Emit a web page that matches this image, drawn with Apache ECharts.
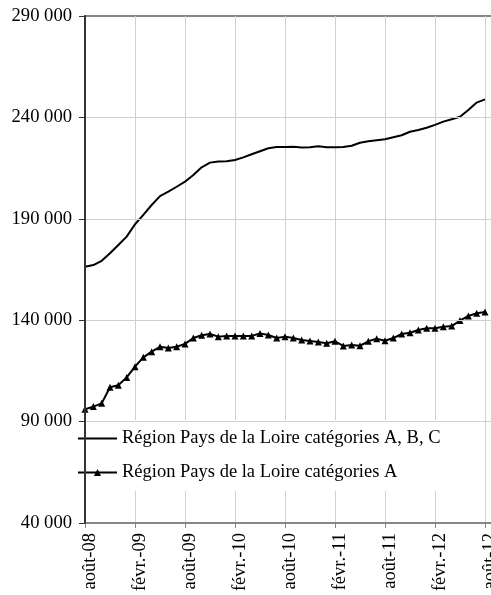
<!DOCTYPE html>
<html>
<head>
<meta charset="utf-8">
<script src="https://cdn.jsdelivr.net/npm/echarts@6/dist/echarts.min.js"></script>
<style>
html,body{margin:0;padding:0;background:#fff;}
#chart{width:491px;height:595px;}
</style>
</head>
<body>
<div id="chart"></div>
<script>
var months = [
  'août-08','sept.-08','oct.-08','nov.-08','déc.-08','janv.-09',
  'févr.-09','mars-09','avr.-09','mai-09','juin-09','juil.-09',
  'août-09','sept.-09','oct.-09','nov.-09','déc.-09','janv.-10',
  'févr.-10','mars-10','avr.-10','mai-10','juin-10','juil.-10',
  'août-10','sept.-10','oct.-10','nov.-10','déc.-10','janv.-11',
  'févr.-11','mars-11','avr.-11','mai-11','juin-11','juil.-11',
  'août-11','sept.-11','oct.-11','nov.-11','déc.-11','janv.-12',
  'févr.-12','mars-12','avr.-12','mai-12','juin-12','juil.-12',
  'août-12'
];
var seriesNames = [
  'Région Pays de la Loire catégories A, B, C',
  'Région Pays de la Loire catégories A'
];
var valuesABC = [
  166400,167200,169300,173000,177100,181200,
  187300,191900,196800,201200,203400,205800,
  208300,211600,215400,217700,218200,218400,
  219000,220300,221800,223300,224800,225400,
  225400,225500,225100,225300,225800,225300,
  225300,225400,226000,227500,228200,228700,
  229200,230200,231200,232900,233800,234900,
  236300,237900,239100,240300,243700,247300,
  248900
];
var valuesA = [
  96100,97400,99000,106900,107900,111800,
  117100,121700,124500,126900,126300,126900,
  128300,131200,132600,133200,131900,132200,
  132200,132200,132200,133500,132700,131200,
  131900,131200,130200,129700,129300,128600,
  129600,127300,127800,127400,129600,130900,
  129900,131200,133200,133800,135200,136000,
  136000,136800,137100,139800,142100,143400,
  144000
];
var yTicks = { min: 40000, max: 290000, step: 50000 };

function pairs(vals) {
  return vals.map(function (v, i) { return [i, v]; });
}
function fmtThousands(v) {
  var s = String(Math.round(v));
  return s.replace(/\B(?=(\d{3})+(?!\d))/g, ' ');
}

var FONT = 'Liberation Serif';
var chart = echarts.init(document.getElementById('chart'), null, { renderer: 'canvas' });
chart.setOption({
  animation: false,
  backgroundColor: '#fff',
  grid: {
    left: 85, top: 16, width: 408.33, height: 507,
    outerBoundsMode: 'none', containLabel: false,
    show: true, borderColor: '#868686', borderWidth: 2, backgroundColor: 'transparent'
  },
  xAxis: {
    type: 'value',
    min: 0, max: months.length,
    interval: 6,
    axisLine: { show: true, lineStyle: { color: '#868686', width: 2 } },
    axisTick: { show: true, length: 5, lineStyle: { color: '#868686', width: 1 } },
    splitLine: { show: true, showMinLine: false, lineStyle: { color: '#d0d0d0', width: 1 } },
    axisLabel: {
      rotate: 90, margin: 10, showMaxLabel: false,
      verticalAlign: 'top', lineHeight: 10,
      fontFamily: FONT, fontSize: 18.5, color: '#000',
      formatter: function (v) {
        return (v % 6 === 0 && v < months.length) ? months[v] : '';
      }
    }
  },
  yAxis: {
    type: 'value',
    min: yTicks.min, max: yTicks.max, interval: yTicks.step,
    z: 10,
    axisLine: { show: true, lineStyle: { color: '#333', width: 2 } },
    axisTick: { show: true, length: 6, lineStyle: { color: '#333', width: 1 } },
    splitLine: { show: true, showMaxLine: false, showMinLine: false, lineStyle: { color: '#d0d0d0', width: 1 } },
    axisLabel: {
      margin: 13, fontFamily: FONT, fontSize: 18.6, color: '#000',
      formatter: fmtThousands
    }
  },
  legend: {
    orient: 'vertical',
    left: 77, top: 420,
    padding: [9, 2, 9, 0],
    itemGap: 15,
    itemWidth: 39, itemHeight: 9,
    backgroundColor: '#fff',
    textStyle: { fontFamily: FONT, fontSize: 18.5, color: '#000', lineHeight: 19 },
    data: [
      { name: seriesNames[0], itemStyle: { color: 'rgba(0,0,0,0)', opacity: 0, borderWidth: 0 } },
      { name: seriesNames[1] }
    ]
  },
  series: [
    {
      name: seriesNames[0], type: 'line',
      data: pairs(valuesABC),
      symbol: 'none', showSymbol: false,
      lineStyle: { color: '#000', width: 2 },
      itemStyle: { color: '#000' }
    },
    {
      name: seriesNames[1], type: 'line',
      data: pairs(valuesA),
      symbol: 'triangle', symbolSize: 7, showSymbol: true,
      lineStyle: { color: '#000', width: 2 },
      itemStyle: { color: '#000' }
    }
  ]
});
</script>
</body>
</html>
